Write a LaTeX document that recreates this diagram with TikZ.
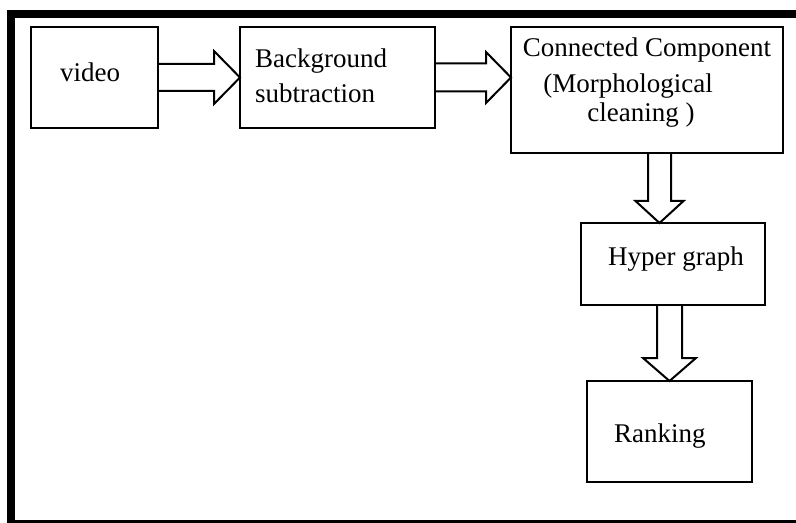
\documentclass[tikz,border=0pt]{standalone}
\usepackage{fontspec}
\setmainfont{Liberation Serif}
\usetikzlibrary{calc}
\begin{document}
\begin{tikzpicture}[x=1bp,y=-1bp,
  box/.style={draw=black,line width=2bp,rectangle,inner sep=0pt,outer sep=0pt},
  txt/.style={inner sep=0pt,font=\fontsize{27bp}{33bp}\selectfont,text=black},
  blockarrow/.style={draw=black,line width=2bp,line join=miter}]
\useasboundingbox (0,0) rectangle (796,523);
\clip (0,0) rectangle (796,523);
\fill[white] (0,0) rectangle (796,523);
% frame
\draw[line width=8bp] (11,14) rectangle (812,524);
% boxes
\node[box,minimum width=127bp,minimum height=101bp] (v)  at (94.5,77.5) {};
\node[box,minimum width=195bp,minimum height=101bp] (bg) at (337.5,77.5) {};
\node[box,minimum width=272bp,minimum height=126bp] (cc) at (647,90) {};
\node[box,minimum width=184bp,minimum height=82bp]  (hg) at (673,264) {};
\node[box,minimum width=165bp,minimum height=101bp] (rk) at (669.5,431.5) {};
% texts
\node[txt,anchor=base west] (tv) at (60,82) {video};
\node[txt,anchor=base west] (tbg1) at (255,68) {Background};
\node[txt,anchor=base west] (tbg2) at (255,103) {subtraction};
\node[txt,anchor=base] (tcc1) at (647,57) {Connected Component};
\node[txt,anchor=base] (tcc2) at (628,93) {(Morphological};
\node[txt,anchor=base] (tcc3) at (641,122) {cleaning )};
\node[txt,anchor=base west] (thg) at (608,266) {Hyper graph};
\node[txt,anchor=base west] (trk) at (614,442) {Ranking};
% block arrows
\draw[blockarrow] let \p1=(v.east), \p2=(bg.west) in
  (\x1,\y1+13.5bp) -- (\x2-26bp,\y1+13.5bp) -- (\x2-26bp,\y1+26.5bp) -- (\x2,\y1)
  -- (\x2-26bp,\y1-26.5bp) -- (\x2-26bp,\y1-13.5bp) -- (\x1,\y1-13.5bp);
\draw[blockarrow] let \p1=(bg.east), \p2=(cc.west |- bg.east) in
  (\x1,\y1+14bp) -- (\x2-25bp,\y1+14bp) -- (\x2-25bp,\y1+25.5bp) -- (\x2,\y1)
  -- (\x2-25bp,\y1-25.5bp) -- (\x2-25bp,\y1-14bp) -- (\x1,\y1-14bp);
\draw[blockarrow] let \p1=($(cc.south)+(12.5,0)$), \p2=(\x1,0|-hg.north) in
  (\x1-11.5bp,\y1) -- (\x1-11.5bp,\y2+22bp) -- (\x1-24bp,\y2+22bp) -- (\x1,\y2)
  -- (\x1+24bp,\y2+22bp) -- (\x1+11.5bp,\y2+22bp) -- (\x1+11.5bp,\y1);
\draw[blockarrow] let \p1=(rk.north |- hg.south), \p2=(rk.north) in
  (\x1-12.5bp,\y1) -- (\x1-12.5bp,\y2+23bp) -- (\x1-26.5bp,\y2+23bp) -- (\x1,\y2)
  -- (\x1+26.5bp,\y2+23bp) -- (\x1+12.5bp,\y2+23bp) -- (\x1+12.5bp,\y1);
\end{tikzpicture}
\end{document}
